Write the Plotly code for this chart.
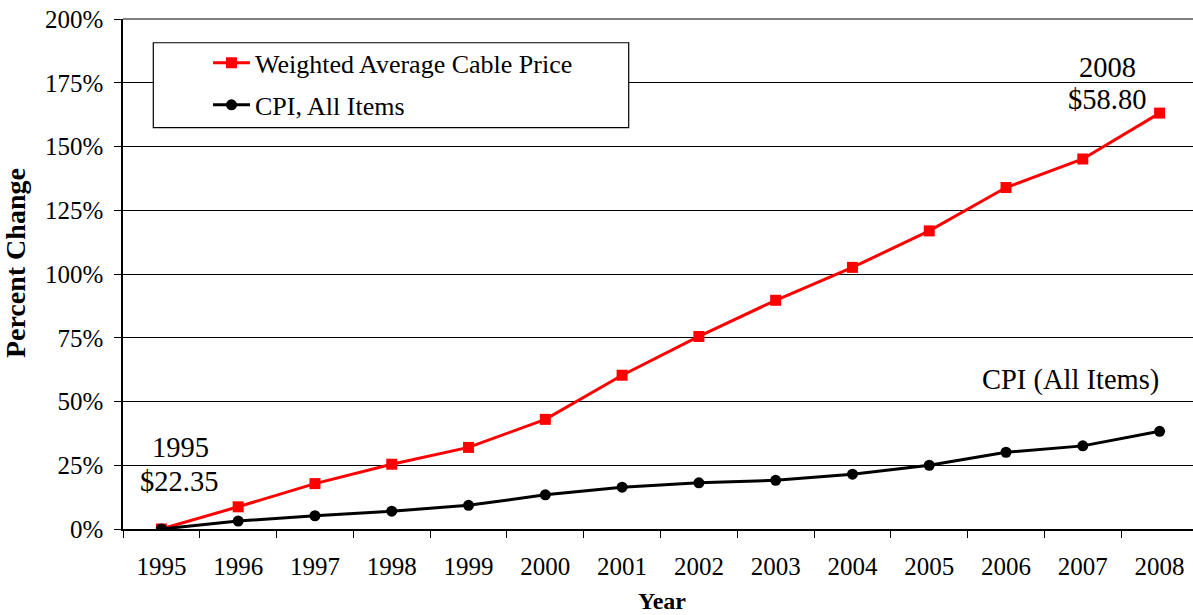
import plotly.graph_objects as go

# Percent change since 1995
years = ["1995", "1996", "1997", "1998", "1999", "2000", "2001",
         "2002", "2003", "2004", "2005", "2006", "2007", "2008"]
cable_pct = [0.0, 8.7, 17.8, 25.4, 32.0, 43.0, 60.3,
             75.5, 89.7, 102.6, 116.9, 133.9, 145.1, 163.1]
cpi_pct = [0.0, 3.1, 5.2, 7.0, 9.3, 13.4, 16.4,
           18.1, 19.1, 21.5, 25.0, 30.1, 32.6, 38.3]
y_ticks = [0, 25, 50, 75, 100, 125, 150, 175, 200]
y_labels = ["0%", "25%", "50%", "75%", "100%", "125%", "150%", "175%", "200%"]

W, H = 1193, 615
L, R, T, B = 123, 0, 18.5, 85.7
FONT = '"Liberation Serif", "Times New Roman", Times, serif'

pw = W - L - R
ph = H - T - B


def px(x):
    return (x - L) / pw


def py(y):
    return (H - B - y) / ph


fig = go.Figure()
fig.add_trace(go.Scatter(
    x=years, y=cable_pct, mode="lines+markers",
    name="Weighted Average Cable Price",
    line=dict(color="#ff0000", width=3),
    marker=dict(symbol="square", size=11, color="#ff0000"),
    legend="legend",
))
fig.add_trace(go.Scatter(
    x=years, y=cpi_pct, mode="lines+markers",
    name="CPI, All Items",
    line=dict(color="#000000", width=3),
    marker=dict(symbol="circle", size=11, color="#000000"),
    legend="legend2",
))

# legend frame
fig.add_shape(type="rect", xref="paper", yref="paper",
              x0=px(153.3), x1=px(628.7), y0=py(127.3), y1=py(42.3),
              line=dict(color="#000000", width=1.2), fillcolor="white",
              layer="above")
# top border of plot area
fig.add_shape(type="line", xref="paper", yref="paper",
              x0=0, x1=1, y0=1, y1=1,
              line=dict(color="#808080", width=2), layer="above")

ann_font = dict(family=FONT, size=28.5, color="#000000")
annotations = [
    dict(text="1995", x=px(180), y=py(448)),
    dict(text="$22.35", x=px(179), y=py(482)),
    dict(text="2008", x=px(1107), y=py(67)),
    dict(text="$58.80", x=px(1107), y=py(99)),
    dict(text="CPI (All Items)", x=px(1070.7), y=py(380)),
]
for a in annotations:
    fig.add_annotation(xref="paper", yref="paper", showarrow=False,
                       xanchor="center", yanchor="middle", font=ann_font, **a)

fig.add_annotation(text="<b>Year</b>", xref="paper", yref="paper",
                   x=px(661.7), y=py(601), showarrow=False,
                   xanchor="center", yanchor="middle",
                   font=dict(family=FONT, size=24, color="#000000"))
fig.add_annotation(text="<b>Percent Change</b>", xref="paper", yref="paper",
                   x=px(15), y=py(263), showarrow=False, textangle=-90,
                   xanchor="center", yanchor="middle",
                   font=dict(family=FONT, size=28, color="#000000"))

legend_font = dict(family=FONT, size=26, color="#000000")
fig.update_layout(
    width=W, height=H,
    margin=dict(l=L, r=R, t=T, b=B, pad=0),
    paper_bgcolor="white", plot_bgcolor="white",
    font=dict(family=FONT, size=25, color="#000000"),
    showlegend=True,
    legend=dict(x=px(208), y=py(39), xanchor="left", yanchor="top",
                itemwidth=37,
                bgcolor="rgba(0,0,0,0)", borderwidth=0, font=legend_font),
    legend2=dict(x=px(208), y=py(81), xanchor="left", yanchor="top",
                 itemwidth=37,
                 bgcolor="rgba(0,0,0,0)", borderwidth=0, font=legend_font),
    xaxis=dict(
        type="category", range=[-0.5, 13.435],
        tickson="boundaries", ticks="outside", ticklen=7,
        tickcolor="#000000", tickwidth=1,
        showline=True, linecolor="#000000", linewidth=1.5,
        showgrid=False, zeroline=False,
        ticklabelstandoff=14,
        tickfont=dict(family=FONT, size=25, color="#000000"),
    ),
    yaxis=dict(
        range=[0, 200], tickmode="array", tickvals=y_ticks, ticktext=y_labels,
        ticks="outside", ticklen=7, tickcolor="#000000", tickwidth=1,
        showline=True, linecolor="#000000", linewidth=1.5,
        showgrid=True, gridcolor="#000000", gridwidth=1,
        zeroline=False, ticklabelstandoff=6,
        tickfont=dict(family=FONT, size=25, color="#000000"),
    ),
)

fig.write_html("out.html")
